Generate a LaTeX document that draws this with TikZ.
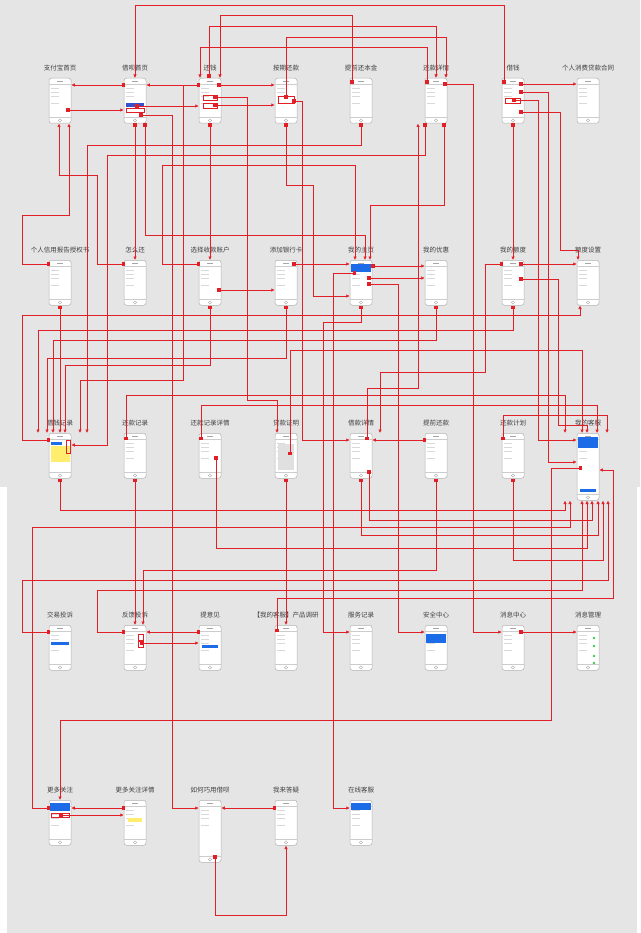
\documentclass[tikz,border=0pt]{standalone}
\usepackage{fontspec}
\newfontfamily\cjk{Noto Sans CJK SC}
\usetikzlibrary{arrows.meta, positioning, calc}
\definecolor{myred}{RGB}{226,30,38}
\definecolor{mygray}{RGB}{229,229,229}
\definecolor{myblue}{RGB}{28,108,232}
\definecolor{myyellow}{RGB}{255,238,110}
\definecolor{mygreen}{RGB}{60,200,80}

\tikzset{
  phone/.style={draw=black!30, fill=white, rounded corners=2.5pt, minimum width=22pt, inner sep=0pt, line width=0.5pt},
  lbl/.style={font=\cjk\fontsize{6.5}{7}\selectfont, text=black!75, inner sep=0pt},
  link/.style={draw=myred, line width=0.6pt, arrows={Square[length=3.5pt,width=3.5pt]-Latex[length=3.5pt,width=3.5pt]}},
  hot/.style={draw=myred, line width=0.5pt},
}

\newcommand{\mockup}[5]{% name, x, top, height, label
  \node[phone, minimum height=#4pt, anchor=north] (#1) at (#2,#3) {};
  \draw[black!20] ([yshift=-6pt]#1.north west) -- ([yshift=-6pt]#1.north east);
  \draw[black!20] ([yshift=6pt]#1.south west) -- ([yshift=6pt]#1.south east);
  \draw[black!35] ([xshift=-3pt,yshift=-3pt]#1.north) -- ([xshift=3pt,yshift=-3pt]#1.north);
  \draw[black!35] ([yshift=3pt]#1.south) circle (1.6pt);
  \foreach \k in {10,14,18,25}
    \draw[black!15] ([xshift=2.5pt,yshift=-\k pt]#1.north west) -- ++(8,0);
  \node[lbl, above=7pt of #1] (#1-t) {#5};
}

\begin{document}
\begin{tikzpicture}[x=1pt, y=-1pt]
  \def\ra{78}
  \def\rb{260}
  \def\rc{433}
  \def\rd{625}
  \def\re{800}

  \useasboundingbox (0,0) rectangle (640,933);
  \fill[mygray] (0,0) rectangle (640,487);
  \fill[mygray] (7,487) rectangle (637,933);

%row 1:
  \mockup{zfbsy}{60}{\ra}{45}{支付宝首页}
  \mockup{jbsy}{135}{\ra}{45}{借呗首页}
  \mockup{hq}{210}{\ra}{45}{还钱}
  \mockup{aqhk}{286}{\ra}{45}{按期还款}
  \mockup{tqhbj}{361}{\ra}{45}{提前还本金}
  \mockup{hkxq}{436}{\ra}{45}{还款详情}
  \mockup{jq}{513}{\ra}{45}{借钱}
  \mockup{htong}{588}{\ra}{45}{个人消费贷款合同}
%row 2:
  \mockup{sqs}{60}{\rb}{45}{个人信用报告授权书}
  \mockup{zmh}{135}{\rb}{45}{怎么还}
  \mockup{skzh}{210}{\rb}{45}{选择收款账户}
  \mockup{yhk}{286}{\rb}{45}{添加银行卡}
  \mockup{wdzy}{361}{\rb}{45}{我的主页}
  \mockup{wdyh}{436}{\rb}{45}{我的优惠}
  \mockup{wded}{513}{\rb}{45}{我的额度}
  \mockup{edsz}{588}{\rb}{45}{额度设置}
%row 3:
  \mockup{jqjl}{60}{\rc}{45}{借钱记录}
  \mockup{hkjl}{135}{\rc}{45}{还款记录}
  \mockup{hkjlxq}{210}{\rc}{45}{还款记录详情}
  \mockup{dkzm}{286}{\rc}{45}{贷款证明}
  \mockup{jkxq}{361}{\rc}{45}{借款详情}
  \mockup{tqhk}{436}{\rc}{45}{提前还款}
  \mockup{hkjh}{513}{\rc}{45}{还款计划}
  \mockup{wdkf}{588}{\rc}{67}{我的客服}
%row 4:
  \mockup{jyts}{60}{\rd}{45}{交易投诉}
  \mockup{fkts}{135}{\rd}{45}{反馈投诉}
  \mockup{tyj}{210}{\rd}{45}{提意见}
  \mockup{cpdy}{286}{\rd}{45}{【我的客服】产品调研}
  \mockup{fwjl}{361}{\rd}{45}{服务记录}
  \mockup{aqzx}{436}{\rd}{45}{安全中心}
  \mockup{xxzx}{513}{\rd}{45}{消息中心}
  \mockup{xxgl}{588}{\rd}{45}{消息管理}
%row 5:
  \mockup{gdgz}{60}{\re}{45}{更多关注}
  \mockup{gdgzxq}{135}{\re}{45}{更多关注详情}
  \mockup{qyjb}{210}{\re}{62}{如何巧用借呗}
  \mockup{wldy}{286}{\re}{45}{我来答疑}
  \mockup{zxkf}{361}{\re}{45}{在线客服}

%screen details:
  \fill[myblue!75!violet] (126,103) rectangle (144,107);
  \draw[hot] (126,108) rectangle (144,112);
  \draw[hot] (203,95) rectangle (217,100);
  \draw[hot] (203,103) rectangle (217,108);
  \draw[hot] (278,96) rectangle (294,103);
  \draw[hot] (505,98) rectangle (520,103);
  \fill[myblue] (351,264) rectangle (371,272);
  \fill[myyellow] (51,446) rectangle (70,462);
  \fill[myblue] (51,442) rectangle (62,445);
  \draw[hot] (66,440) rectangle (70,453);
  \fill[black!12] (278,444) rectangle (294,470);
  \fill[myblue] (578,437) rectangle (598,448);
  \fill[myblue] (580,489) rectangle (596,492);
  \fill[myblue] (51,642) rectangle (69,645);
  \draw[hot] (138,634) rectangle (143,640);
  \draw[hot] (138,641) rectangle (143,647);
  \fill[myblue] (202,645) rectangle (218,648);
  \fill[myblue] (426,634) rectangle (446,643);
  \foreach \g in {638,646,656,663}
    \fill[mygreen] (594,\g) circle (1.3);
  \fill[myblue] (50,803) rectangle (70,811);
  \draw[hot] (51,813) rectangle (69,817);
  \fill[myyellow] (128,818) rectangle (142,822);
  \fill[myblue] (351,803) rectangle (371,810);

%hot spots:
  \coordinate (zfbsy-a) at (66,110);
  \coordinate (jbsy-a) at (125,85);
  \coordinate (jbsy-b) at (135,106);
  \coordinate (jbsy-c) at (139,115);
  \coordinate (hq-a) at (200,85);
  \coordinate (hq-b) at (217,85);
  \coordinate (hq-c) at (213,97);
  \coordinate (hq-d) at (213,105);
  \coordinate (aqhk-a) at (286,99);
  \coordinate (aqhk-b) at (292,101);
  \coordinate (tqhbj-a) at (352,84);
  \coordinate (hkxq-a) at (427,84);
  \coordinate (hkxq-b) at (443,84);
  \coordinate (jq-a) at (504,84);
  \coordinate (jq-b) at (519,84);
  \coordinate (jq-c) at (512,100);
  \coordinate (jq-d) at (519,112);
  \coordinate (jq-e) at (519,92);
  \coordinate (sqs-a) at (50,264);
  \coordinate (zmh-a) at (125,264);
  \coordinate (skzh-a) at (200,264);
  \coordinate (skzh-b) at (217,290);
  \coordinate (yhk-a) at (292,264);
  \coordinate (wdzy-b) at (371,266);
  \coordinate (wdzy-c) at (367,278);
  \coordinate (wdzy-d) at (356,273);
  \coordinate (wdzy-e) at (367,284);
  \coordinate (wded-a) at (519,264);
  \coordinate (wded-b) at (503,264);
  \coordinate (wded-c) at (519,279);
  \coordinate (jqjl-a) at (50,440);
  \coordinate (hkjl-a) at (126,440);
  \coordinate (hkjlxq-a) at (201,440);
  \coordinate (hkjlxq-b) at (216,456);
  \coordinate (dkzm-a) at (290,455);
  \coordinate (jkxq-a) at (367,440);
  \coordinate (jkxq-b) at (369,470);
  \coordinate (tqhk-a) at (426,440);
  \coordinate (hkjh-a) at (503,440);
  \coordinate (wdkf-a) at (582,468);
  \coordinate (jyts-a) at (50,632);
  \coordinate (fkts-a) at (125,632);
  \coordinate (fkts-b) at (140,643);
  \coordinate (tyj-a) at (200,632);
  \coordinate (cpdy-a) at (277,632);
  \coordinate (xxzx-a) at (519,632);
  \coordinate (gdgz-a) at (50,808);
  \coordinate (gdgz-b) at (59,815);
  \coordinate (gdgzxq-a) at (125,808);
  \coordinate (qyjb-a) at (215,855);
  \coordinate (wldy-a) at (276,808);

%links, row 1:
  \draw[link] (jbsy-a) -- (zfbsy.east |- jbsy-a);
  \draw[link] (zfbsy-a) -- (jbsy.west |- zfbsy-a);
  \draw[link] (hq-a) -- (jbsy.east |- hq-a);
  \draw[link] (jbsy-b) -- (hq.west |- jbsy-b);
  \draw[link] (jbsy-c) -| (172,808) -- ([yshift=-8pt]qyjb.north west);
  \draw[link] (hq-b) -- (aqhk.west |- hq-b);
  \draw[link] (hq-d) -- (aqhk.west |- hq-d);
  \draw[link] (jq-a) |- (135,5) -- (jbsy.north);
  \draw[link] (tqhbj-a) |- (220,15) -- ([xshift=10pt]hq.north);
  \draw[link] ([xshift=-1pt]hq.north) |- (436,26) -- (hkxq.north);
  \draw[link] (aqhk-a) |- (446,37) -- ([xshift=10pt]hkxq.north);
  \draw[link] (hkxq-a) |- (200,47) -- ([xshift=-10pt]hq.north);
  \draw[link] (hkxq-b) -| (473,632) -- ([yshift=-7pt]xxzx.north west);
  \draw[link] (jq-b) -- (htong.west |- jq-b);
  \draw[link] (jq-c) -| (538,440) -- ([yshift=-7pt]wdkf.north west);
  \draw[link] (jq-e) -| (548,462) -- ([yshift=-29pt]wdkf.north west);
  \draw[link] (jq-d) -| (560,250) -| ([xshift=-10pt]edsz.north);

%links, row 2:
  \draw[link] (sqs-a) -| (22,215) -| ([xshift=9pt]zfbsy.south);
  \draw[link] (zmh-a) -| (97,175) -| ([xshift=-1pt]zfbsy.south);
  \draw[link] (jbsy.south) -- (zmh.north);
  \draw[link] (hq.south) -- (skzh.north);
  \draw[link] (jq.south) -- (wded.north);
  \draw[link] (skzh-a) -| (162,165) -| ([xshift=-6pt]wdzy.north);
  \draw[link] (skzh-b) -- (yhk.west |- skzh-b);
  \draw[link] (yhk-a) -- (wdzy.west |- yhk-a);
  \draw[link] (aqhk.south) |- (313,185) |- ([yshift=-36pt]wdzy.north west);
  \draw[link] (wdzy-b) -- (wdyh.west |- wdzy-b);
  \draw[link] (wdzy-c) -- (wdyh.west |- wdzy-c);
  \draw[link] (wded-a) -- (edsz.west |- wded-a);
  \draw[link] ([xshift=10pt]jbsy.south) |- (365,235) -- ([xshift=4pt]wdzy.north);
  \draw[link] ([xshift=8pt]hkxq.south) |- (370,205) -- ([xshift=9pt]wdzy.north);
  \draw[link] (hq-c) -| (247,400) -| ([xshift=-9pt]dkzm.north);
  \draw[link] (hq-a) -| (183,380) -| ([xshift=20pt]jqjl.north);
  \draw[link] (tqhbj.south) |- (87,145) -- ([xshift=27pt]jqjl.north);
  \draw[link] ([xshift=-11pt]hkxq.south) |- (107,155) |- ([yshift=-12pt]jqjl.north east);
  \draw[link] (aqhk-b) -| (302,440) -- ([yshift=-7pt]jkxq.north west);

%links, row 3:
  \draw[link] (wdzy-d) -| (333,808) -- ([yshift=-8pt]zxkf.north west);
  \draw[link] (wdzy-e) -| (398,632) -- ([yshift=-7pt]aqzx.north west);
  \draw[link] (wdzy.south) |- (323,322) |- ([yshift=-7pt]fwjl.north west);
  \draw[link] (jqjl-a) -| (22,315) -| ([xshift=-8pt]edsz.south);
  \draw[link] (wded.south) |- (38,330) -- ([xshift=-22pt]jqjl.north);
  \draw[link] (wdyh.south) |- (53,340) -- ([xshift=-7pt]jqjl.north);
  \draw[link] (dkzm-a) |- (582,350) -- ([xshift=-6pt]wdkf.north);
  \draw[link] (yhk.south) |- (47,358) -- ([xshift=-13pt]jqjl.north);
  \draw[link] (skzh.south) |- (65,365) -- ([xshift=5pt]jqjl.north);
  \draw[link] (wded-b) -| (485,372) -| ([xshift=19pt]jkxq.north);
  \draw[link] (jkxq-a) |- (418,388) -- ([xshift=-18pt]hkxq.south);
  \draw[link] (hkjl-a) |- (565,395) -- ([xshift=-23pt]wdkf.north);
  \draw[link] (hkjlxq-a) |- (597,405) -- ([xshift=9pt]wdkf.north);
  \draw[link] (hkjh-a) |- (607,415) -- ([xshift=19pt]wdkf.north);
  \draw[link] (wded-c) -| (558,425) -| ([xshift=-1pt]wdkf.north);
  \draw[link] (tqhk-a) -- (jkxq.east |- tqhk-a);
  \draw[link] (sqs.south) -- (jqjl.north);

%links, row 4:
  \draw[link] (hkjl.south) -- (fkts.north);
  \draw[link] (dkzm.south) -- (cpdy.north);
  \draw[link] (jqjl.south) |- (565,510) -- ([xshift=-23pt]wdkf.south);
  \draw[link] (gdgz-a) -| (32,527) -| ([xshift=-18pt]wdkf.south);
  \draw[link] (hkjlxq-b) |- (587,548) -- ([xshift=-1pt]wdkf.south);
  \draw[link] (jkxq-b) |- (592,520) -- ([xshift=4pt]wdkf.south);
  \draw[link] (jkxq.south) |- (598,535) -- ([xshift=10pt]wdkf.south);
  \draw[link] (hkjh.south) |- (603,560) -- ([xshift=15pt]wdkf.south);
  \draw[link] (jyts-a) -| (22,580) -| ([xshift=20pt]wdkf.south);
  \draw[link] (fkts-a) -| (97,590) -| ([xshift=-6pt]wdkf.south);
  \draw[link] (tqhk.south) |- (143,570) -- ([xshift=8pt]fkts.north);
  \draw[link] (fkts-b) -- (tyj.west |- fkts-b);
  \draw[link] (tyj-a) -- (fkts.east |- tyj-a);
  \draw[link] (cpdy-a) |- (613,598) |- ([yshift=-37pt]wdkf.north east);
  \draw[link] (xxzx-a) -- (xxgl.west |- xxzx-a);

%links, row 5:
  \draw[link] (wdkf-a) -| (551,720) -| (gdgz.north);
  \draw[link] (gdgz-b) -- (gdgzxq.west |- gdgz-b);
  \draw[link] (gdgzxq-a) -- (gdgz.east |- gdgzxq-a);
  \draw[link] (wldy-a) -- (qyjb.east |- wldy-a);
  \draw[link] (qyjb-a) |- (286,915) -- (wldy.south);

\end{tikzpicture}
\end{document}
